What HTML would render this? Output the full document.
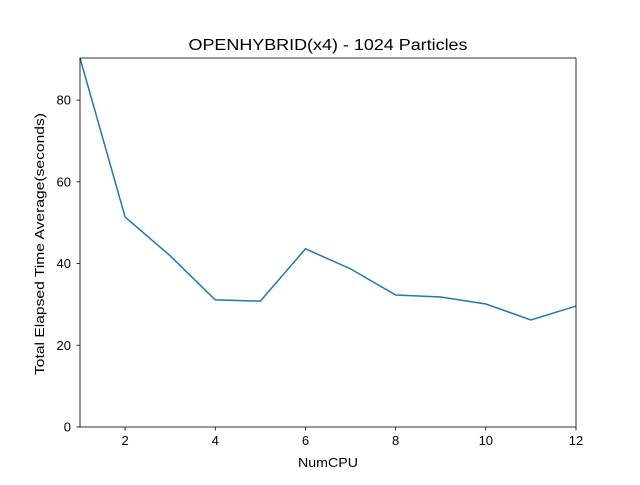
<!DOCTYPE html>
<html><head><meta charset="utf-8"><style>
body{margin:0;background:#fff;}
svg text{font-family:"Liberation Sans","DejaVu Sans",sans-serif;fill:#000;}
</style></head><body>
<svg id="chart" width="640" height="480" xmlns="http://www.w3.org/2000/svg">
<rect width="640" height="480" fill="#fff"/>
<text x="328" y="50" font-size="15.5" text-anchor="middle" textLength="279" lengthAdjust="spacingAndGlyphs">OPENHYBRID(x4) - 1024 Particles</text>
<g id="xticks"></g>
<g id="yticks"></g>
<text x="328" y="467" font-size="13" text-anchor="middle" textLength="60" lengthAdjust="spacingAndGlyphs">NumCPU</text>
<text transform="translate(44,244) rotate(-90)" font-size="13" text-anchor="middle" textLength="262" lengthAdjust="spacingAndGlyphs">Total Elapsed Time Average(seconds)</text>
<path id="line" fill="none" stroke="#1f77b4" stroke-width="1.5"/>
<rect x="80" y="58" width="496" height="369" fill="none" stroke="#000" stroke-width="0.8"/>
</svg>
<script>
const numCpu=[1,2,3,4,5,6,7,8,9,10,11,12];
const elapsed=[90.3,51.4,41.9,31.1,30.8,43.6,38.7,32.3,31.8,30.1,26.2,29.6];
const xTicks=[2,4,6,8,10,12];
const yTicks=[0,20,40,60,80];
const L=80,R=576,T=58,B=427,xmin=1,xmax=12,ymin=0,ymax=90.3;
const xs=v=>L+(v-xmin)/(xmax-xmin)*(R-L);
const ys=v=>B-(v-ymin)/(ymax-ymin)*(B-T);
const NS="http://www.w3.org/2000/svg";
const xg=document.getElementById('xticks'),yg=document.getElementById('yticks');
xTicks.forEach(t=>{
 const l=document.createElementNS(NS,'line');
 l.setAttribute('x1',xs(t));l.setAttribute('x2',xs(t));l.setAttribute('y1',B);l.setAttribute('y2',B+3.5);l.setAttribute('stroke','#000');l.setAttribute('stroke-width','0.8');
 
 
 xg.appendChild(l);
 const tx=document.createElementNS(NS,'text');
 tx.setAttribute('x',xs(t));tx.setAttribute('y',B+18);tx.setAttribute('font-size','13');tx.setAttribute('text-anchor','middle');tx.textContent=t;
 
 
 xg.appendChild(tx);
});
yTicks.forEach(t=>{
 const l=document.createElementNS(NS,'line');
 l.setAttribute('x1',L-3.5);l.setAttribute('x2',L);l.setAttribute('y1',ys(t));l.setAttribute('y2',ys(t));l.setAttribute('stroke','#000');l.setAttribute('stroke-width','0.8');
 
 
 yg.appendChild(l);
 const tx=document.createElementNS(NS,'text');
 tx.setAttribute('x',L-9);tx.setAttribute('y',ys(t)+4.5);tx.setAttribute('font-size','13');tx.setAttribute('text-anchor','end');tx.textContent=t;
 
 
 yg.appendChild(tx);
});
document.getElementById('line').setAttribute('d',numCpu.map((c,i)=>(i?'L':'M')+xs(c)+','+ys(elapsed[i])).join(' '));
</script>
</body></html>
